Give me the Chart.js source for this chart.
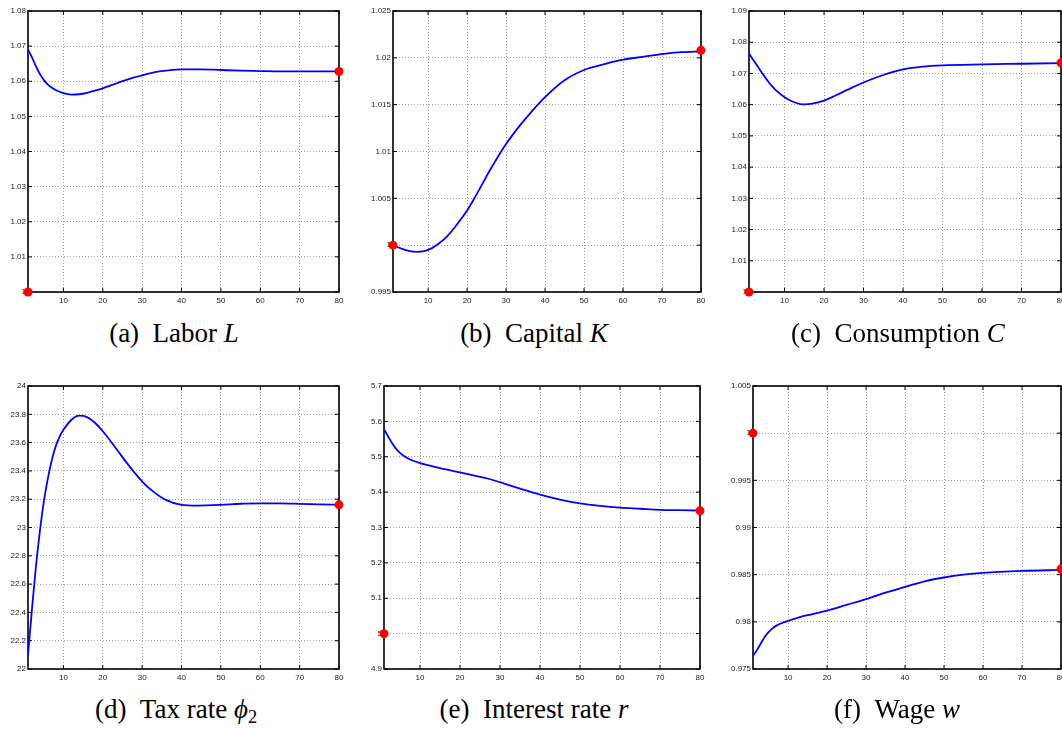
<!DOCTYPE html>
<html>
<head>
<meta charset="utf-8">
<script src="https://cdn.jsdelivr.net/npm/chart.js@4"></script>
<style>
html,body{margin:0;padding:0;background:#fff;width:1062px;height:731px;overflow:hidden;position:relative;}
.panel{position:absolute;}
.cap{position:absolute;width:400px;text-align:center;font-family:"Liberation Serif",serif;font-size:27px;line-height:26px;color:#000;white-space:nowrap;}
.cap i{font-style:italic;}
.cap sub{font-size:0.68em;line-height:0;vertical-align:-0.28em;}
</style>
</head>
<body>

<script>
/* ==========================================
        Transition path data
========================================== */

const xTicks = [10,20,30,40,50,60,70,80];

// (a) labor
const periodsA = [1,2,3,4,5,6,7,8,10,12,14,16,18,20,22,24,26,28,30,33,36,40,45,50,55,60,65,70,75,80];
const labor = [1.0690,1.0668,1.0643,1.0621,1.0604,1.0591,1.0582,1.0575,1.0566,1.0562,1.0563,1.0567,1.0573,1.0580,1.0588,1.0596,1.0604,1.0611,1.0617,1.0625,1.0630,1.0634,1.0634,1.0632,1.0630,1.0629,1.0628,1.0628,1.0628,1.0628];
const laborMarkX = [1,80];
const laborMarkY = [1.0,1.0628];
const laborTicks = [1,1.01,1.02,1.03,1.04,1.05,1.06,1.07,1.08];

// (b) capital
const periodsB = [1,3,5,7,9,11,13,15,17,20,22,24,26,28,30,33,36,40,45,50,55,60,65,70,75,80];
const capital = [1.0000,0.99965,0.99940,0.99929,0.99937,0.99968,1.00025,1.0010,1.0020,1.0037,1.0051,1.0066,1.0081,1.0095,1.0108,1.0125,1.0140,1.0158,1.0176,1.0187,1.0193,1.0198,1.0201,1.0204,1.0206,1.0207];
const capitalMarkX = [1,80];
const capitalMarkY = [1.0,1.0208];
const capitalTicks = [0.995,1,1.005,1.01,1.015,1.02,1.025];

// (c) consumption
const periodsC = [1,2,3,4,5,6,7,8,10,12,14,15,17,20,23,26,30,35,40,45,50,60,70,80];
const consumption = [1.0764,1.0745,1.0726,1.0707,1.0689,1.0672,1.0657,1.0644,1.0624,1.0610,1.0602,1.0601,1.0603,1.0613,1.0630,1.0648,1.0671,1.0695,1.0713,1.0722,1.0726,1.0729,1.0731,1.0733];
const consumptionMarkX = [1,80];
const consumptionMarkY = [1.0,1.0734];
const consumptionTicks = [1,1.01,1.02,1.03,1.04,1.05,1.06,1.07,1.08,1.09];

// (d) tax rate
const periodsD = [1,2,3,4,5,6,7,8,9,10,12,14,16,18,20,22,24,26,28,30,33,36,40,44,50,55,60,65,70,75,80];
const taxRate = [22.10,22.42,22.72,22.97,23.18,23.34,23.47,23.57,23.64,23.69,23.76,23.79,23.78,23.74,23.68,23.61,23.535,23.46,23.39,23.325,23.25,23.195,23.16,23.155,23.16,23.168,23.17,23.17,23.167,23.163,23.16];
const taxMarkX = [80];
const taxMarkY = [23.16];
const taxTicks = [22,22.2,22.4,22.6,22.8,23,23.2,23.4,23.6,23.8,24];

// (e) interest rate
const periodsE = [1,2,3,4,5,6,7,8,10,12,15,20,25,28,30,35,40,45,50,55,60,65,70,75,80];
const interest = [5.578,5.558,5.539,5.523,5.511,5.502,5.495,5.490,5.482,5.476,5.468,5.456,5.443,5.435,5.428,5.410,5.393,5.379,5.368,5.361,5.356,5.353,5.350,5.349,5.348];
const interestMarkX = [1,80];
const interestMarkY = [5.0,5.347];
const interestTicks = [4.9,5,5.1,5.2,5.3,5.4,5.5,5.6,5.7];

// (f) wage
const periodsF = [1,2,3,4,5,6,7,8,10,13,16,20,25,30,35,40,45,50,55,60,70,80];
const wage = [0.9764,0.9770,0.9777,0.9784,0.9789,0.9793,0.9796,0.9798,0.9801,0.9805,0.9808,0.9812,0.9818,0.9824,0.9831,0.9837,0.9843,0.9847,0.9850,0.9852,0.9854,0.9855];
const wageMarkX = [1,80];
const wageMarkY = [1.0,0.9856];
const wageTicks = [0.975,0.98,0.985,0.99,0.995,1,1.005];


/* ==========================================
        Panel layout (plot box in page px)
========================================== */

const panels = [
  {x:periodsA, y:labor,       mx:laborMarkX,       my:laborMarkY,       ticks:laborTicks,       box:[28,11,339,292],   cap:174, capTop:320, caption:'(a)&ensp;Labor <i>L</i>'},
  {x:periodsB, y:capital,     mx:capitalMarkX,     my:capitalMarkY,     ticks:capitalTicks,     box:[393,11,701,292],  cap:534, capTop:320, caption:'(b)&ensp;Capital <i>K</i>'},
  {x:periodsC, y:consumption, mx:consumptionMarkX, my:consumptionMarkY, ticks:consumptionTicks, box:[749,11,1061,292], cap:898, capTop:320, caption:'(c)&ensp;Consumption <i>C</i>'},
  {x:periodsD, y:taxRate,     mx:taxMarkX,         my:taxMarkY,         ticks:taxTicks,         box:[28,386,339,669],  cap:176, capTop:696, caption:'(d)&ensp;Tax rate <i>&#981;</i><sub>2</sub>'},
  {x:periodsE, y:interest,    mx:interestMarkX,    my:interestMarkY,    ticks:interestTicks,    box:[384,386,700,669], cap:534, capTop:696, caption:'(e)&ensp;Interest rate <i>r</i>'},
  {x:periodsF, y:wage,        mx:wageMarkX,        my:wageMarkY,        ticks:wageTicks,        box:[753,386,1061,669],cap:897, capTop:696, caption:'(f)&ensp;Wage <i>w</i>'}
];

const Y_AXIS_W = 40;
const PAD_TOP = 10;
const PAD_RIGHT = 14;
const X_AXIS_H = 18;


/* ==========================================
        MATLAB style box + inward ticks
========================================== */

const matlabAxes = {
  id:"matlabAxes",
  beforeDatasetsDraw(chart){
    const {ctx, chartArea, scales} = chart;
    const {left, top, right, bottom} = chartArea;
    ctx.save();
    ctx.setLineDash([]);
    ctx.strokeStyle = "#000";
    ctx.lineWidth = 1;
    ctx.beginPath();
    scales.x.ticks.forEach(t=>{
      const px = scales.x.getPixelForValue(t.value);
      ctx.moveTo(px,bottom); ctx.lineTo(px,bottom-4);
      ctx.moveTo(px,top);    ctx.lineTo(px,top+4);
    });
    scales.y.ticks.forEach(t=>{
      const py = scales.y.getPixelForValue(t.value);
      ctx.moveTo(left,py);  ctx.lineTo(left+4,py);
      ctx.moveTo(right,py); ctx.lineTo(right-4,py);
    });
    ctx.stroke();
    ctx.lineWidth = 1.6;
    ctx.strokeRect(left,top,right-left,bottom-top);
    ctx.restore();
  }
};

const fmt = v => String(parseFloat(Number(v).toFixed(4)));


/* ==========================================
        Build charts
========================================== */

panels.forEach(p=>{

  const [L,T,R,B] = p.box;
  const w = (R-L) + Y_AXIS_W + PAD_RIGHT;
  const h = (B-T) + PAD_TOP + X_AXIS_H;

  const holder = document.createElement("div");
  holder.className = "panel";
  holder.style.left = (L-Y_AXIS_W)+"px";
  holder.style.top = (T-PAD_TOP)+"px";
  holder.style.width = w+"px";
  holder.style.height = h+"px";
  const canvas = document.createElement("canvas");
  canvas.width = w;
  canvas.height = h;
  holder.appendChild(canvas);
  document.body.appendChild(holder);

  const cap = document.createElement("div");
  cap.className = "cap";
  cap.style.left = (p.cap-200)+"px";
  cap.style.top = p.capTop+"px";
  cap.innerHTML = p.caption;
  document.body.appendChild(cap);

  const tickFont = {family:"'Liberation Sans', Arial, sans-serif", size:8};

  new Chart(canvas,{
    type:"line",
    data:{
      datasets:[
        {
          data:p.mx.map((x,i)=>({x:x, y:p.my[i]})),
          showLine:false,
          pointRadius:4.5,
          pointHoverRadius:4.5,
          pointBackgroundColor:"#ff0000",
          pointBorderWidth:0,
          clip:false,
          order:0
        },
        {
          data:p.x.map((x,i)=>({x:x, y:p.y[i]})),
          borderColor:"#0000ff",
          borderWidth:1.8,
          pointRadius:0,
          fill:false,
          cubicInterpolationMode:"monotone",
          order:1
        }
      ]
    },
    options:{
      responsive:false,
      animation:false,
      events:[],
      layout:{padding:{top:PAD_TOP, right:PAD_RIGHT, left:0, bottom:0}},
      plugins:{legend:{display:false}, tooltip:{enabled:false}},
      scales:{
        x:{
          type:"linear",
          min:1,
          max:80,
          afterBuildTicks:s=>{ s.ticks = xTicks.map(v=>({value:v})); },
          afterFit:s=>{ s.height = X_AXIS_H; },
          grid:{color:"#a0a0a0", lineWidth:1, drawTicks:false},
          border:{display:false, dash:[1,2]},
          ticks:{font:tickFont, color:"#222", padding:4, maxRotation:0, autoSkip:false, callback:v=>fmt(v)}
        },
        y:{
          type:"linear",
          min:p.ticks[0],
          max:p.ticks[p.ticks.length-1],
          afterBuildTicks:s=>{ s.ticks = p.ticks.map(v=>({value:v})); },
          afterFit:s=>{ s.width = Y_AXIS_W; },
          grid:{color:"#a0a0a0", lineWidth:1, drawTicks:false},
          border:{display:false, dash:[1,2]},
          ticks:{font:tickFont, color:"#222", padding:2, autoSkip:false, callback:v=>fmt(v)}
        }
      }
    },
    plugins:[matlabAxes]
  });

});
</script>
</body>
</html>
